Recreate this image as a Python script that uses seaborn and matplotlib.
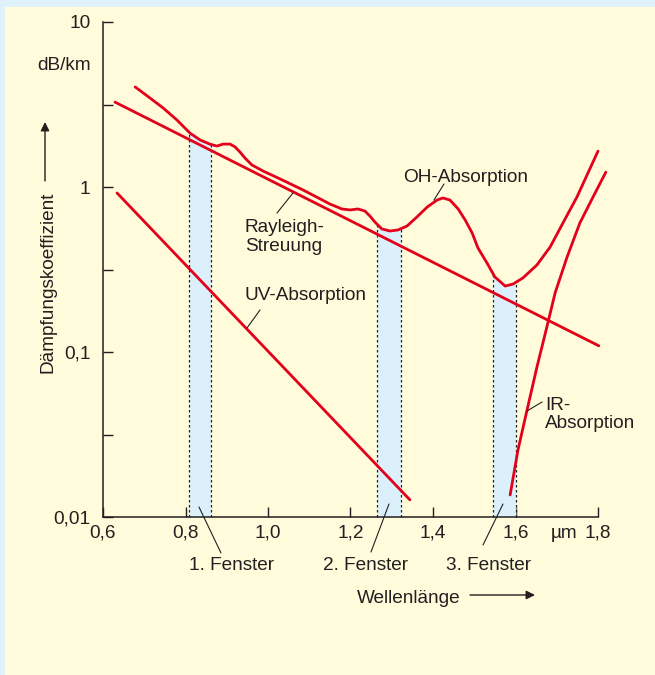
import numpy as np
import pandas as pd
import matplotlib
matplotlib.use("Agg")
import matplotlib.pyplot as plt
import seaborn as sns
from matplotlib.lines import Line2D
from matplotlib.patches import Rectangle

# ---- data (wavelength in um, attenuation in dB/km) ----
total_x = [0.678, 0.714, 0.746, 0.779, 0.811, 0.835, 0.859, 0.876, 0.891, 0.908,
           0.920, 0.932, 0.944, 0.961, 0.988, 1.029, 1.085, 1.150, 1.179, 1.199,
           1.218, 1.235, 1.247, 1.259, 1.276, 1.296, 1.315, 1.337, 1.361, 1.386,
           1.410, 1.424, 1.441, 1.461, 1.478, 1.495, 1.509, 1.531, 1.550, 1.575,
           1.594, 1.618, 1.652, 1.684, 1.715, 1.749, 1.781, 1.800]
total_y = [4.04, 3.46, 3.01, 2.55, 2.12, 1.93, 1.82, 1.77, 1.82, 1.82,
           1.75, 1.63, 1.50, 1.36, 1.25, 1.12, 0.959, 0.789, 0.736, 0.726,
           0.736, 0.715, 0.667, 0.614, 0.557, 0.541, 0.549, 0.580, 0.658, 0.756,
           0.834, 0.858, 0.834, 0.736, 0.631, 0.526, 0.427, 0.346, 0.285, 0.251,
           0.258, 0.281, 0.337, 0.433, 0.605, 0.870, 1.30, 1.65]

rayleigh_x = [0.629, 1.802]
rayleigh_y = [3.27, 0.109]

uv_x = [0.634, 1.344]
uv_y = [0.92, 0.0127]

ir_x = [1.587, 1.606, 1.628, 1.652, 1.679, 1.696, 1.725, 1.756, 1.788, 1.819]
ir_y = [0.0136, 0.0255, 0.0445, 0.0811, 0.152, 0.228, 0.376, 0.605, 0.870, 1.23]

win_lo = [0.808, 1.264, 1.545]
win_hi = [0.862, 1.322, 1.601]
win_labels = ["1. Fenster", "2. Fenster", "3. Fenster"]

x_ticks = [0.6, 0.8, 1.0, 1.2, 1.4, 1.6, 1.8]
x_ticklabels = ["0,6", "0,8", "1,0", "1,2", "1,4", "1,6", "1,8"]
y_ticks = [0.01, 0.1, 1, 10]
y_ticklabels = ["0,01", "0,1", "1", "10"]
y_minor = [0.0316, 0.316, 3.16]

RED = "#e3001b"
INK = "#231f20"
CREAM = "#fffbdb"
BLUE_BG = "#dff1fa"
WIN_BLUE = "#dcf0fb"
FS = 13.7

sns.set_theme(style="ticks")
plt.rcParams["font.family"] = ["Liberation Sans", "DejaVu Sans"]
plt.rcParams["text.color"] = INK

W, H = 655, 675
fig = plt.figure(figsize=(W / 100, H / 100), dpi=100, facecolor=BLUE_BG)


def fp(x, y):
    # image pixel -> figure fraction
    return x / W, 1 - y / H


fig.patches.append(Rectangle((5 / W, 0), 1 - 5 / W, 1 - 7 / H, transform=fig.transFigure,
                             facecolor=CREAM, edgecolor="none", zorder=-10))

ax = fig.add_axes([103 / W, 158 / H, 495 / W, 495 / H])
ax.set_facecolor("none")
ax.set_yscale("log")
ax.set_xlim(0.6, 1.8)
ax.set_ylim(0.01, 10)

# transmission windows, filled up to the total attenuation curve
log_tot = np.log10(total_y)
for lo, hi in zip(win_lo, win_hi):
    xs = np.linspace(lo, hi, 30)
    ys = 10 ** np.interp(xs, total_x, log_tot)
    ax.fill_between(xs, 0.01, ys, color=WIN_BLUE, lw=0, zorder=1)
    for xe, ye in ((lo, ys[0]), (hi, ys[-1])):
        ax.plot([xe, xe], [0.01, ye], color=INK, lw=0.9, ls=(0, (2, 2)), zorder=2)

curves = pd.DataFrame({
    "x": total_x + rayleigh_x + uv_x + ir_x,
    "y": total_y + rayleigh_y + uv_y + ir_y,
    "curve": (["total"] * len(total_x) + ["rayleigh"] * len(rayleigh_x)
              + ["uv"] * len(uv_x) + ["ir"] * len(ir_x)),
})
for name, grp in curves.groupby("curve"):
    sns.lineplot(data=grp, x="x", y="y", ax=ax, color=RED, lw=2.0,
                 sort=False, estimator=None, zorder=3)
for ln in ax.lines:
    ln.set_clip_on(False)
    ln.set_solid_joinstyle("round")

ax.set_xlabel("")
ax.set_ylabel("")
sns.despine(ax=ax)
for s in ("left", "bottom"):
    ax.spines[s].set_color(INK)
    ax.spines[s].set_linewidth(1.1)

ax.set_xticks(x_ticks)
ax.set_xticklabels(x_ticklabels)
ax.set_yticks(y_ticks)
ax.set_yticklabels(y_ticklabels)
ax.set_yticks(y_minor, minor=True)
ax.yaxis.set_minor_formatter(plt.NullFormatter())
ax.tick_params(axis="both", which="both", direction="in", length=7, width=1.0,
               color=INK, labelsize=FS, labelcolor=INK)
ax.tick_params(axis="x", pad=5.5)
ax.tick_params(axis="y", pad=9.0)
ax.tick_params(axis="x", which="minor", bottom=False)

# ---- texts ----
def ftext(x, y, s, **kw):
    kw.setdefault("va", "baseline")
    kw.setdefault("ha", "left")
    fig.text(*fp(x, y), s, fontsize=FS, color=INK, **kw)


def leader(x0, y0, x1, y1):
    fig.add_artist(Line2D([x0 / W, x1 / W], [1 - y0 / H, 1 - y1 / H],
                          transform=fig.transFigure, color=INK, lw=0.8))


ftext(91, 70, "dB/km", ha="right")
ftext(577, 538, "µm", ha="right")

fig.text(*fp(48, 282), "Dämpfungskoeffizient", rotation=90, ha="center", va="center",
         fontsize=FS, color=INK)
fig.add_artist(plt.Annotation("", xy=fp(45, 122), xytext=fp(45, 181),
                              xycoords="figure fraction", textcoords="figure fraction",
                              arrowprops=dict(arrowstyle="-|>", color=INK, lw=1.0,
                                              mutation_scale=13, shrinkA=0, shrinkB=0)))

ftext(357, 603, "Wellenlänge")
fig.add_artist(plt.Annotation("", xy=fp(535, 595), xytext=fp(470, 595),
                              xycoords="figure fraction", textcoords="figure fraction",
                              arrowprops=dict(arrowstyle="-|>", color=INK, lw=1.0,
                                              mutation_scale=13, shrinkA=0, shrinkB=0)))

ftext(245, 232, "Rayleigh-")
ftext(245, 251, "Streuung")
leader(277, 213, 293, 193)

ftext(245, 300, "UV-Absorption")
leader(260, 310, 247, 328)

ftext(403, 182, "OH-Absorption")
leader(444, 184, 434, 200)

ftext(545, 410, "IR-")
ftext(545, 428, "Absorption")
leader(542, 402, 527, 411)

for cx, lab in zip([232, 366, 489], win_labels):
    ftext(cx, 570, lab, ha="center")
leader(199, 507, 221, 553)
leader(389, 504, 371, 552)
leader(503, 504, 483, 545)

fig.savefig("out.png", dpi=100, facecolor=fig.get_facecolor())
